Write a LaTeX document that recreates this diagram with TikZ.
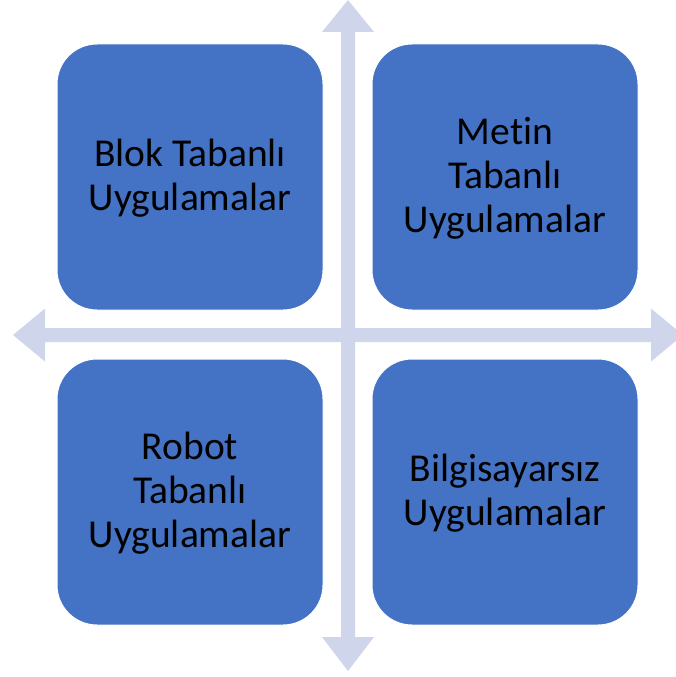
\documentclass[tikz,border=0pt]{standalone}
\usepackage{fontspec}
\setmainfont[Ligatures=NoCommon]{Carlito}
\definecolor{boxblue}{HTML}{4472C4}
\definecolor{arrowlav}{HTML}{CFD5EA}
\newcommand{\boxlines}[1]{\raisebox{-3pt}[\height][\depth]{\begin{tabular}{@{}c@{}}#1\end{tabular}}}
\begin{document}
\begin{tikzpicture}[x=1pt,y=-1pt,
  quadbox/.style={draw=white,line width=1pt,fill=boxblue,rounded corners=40pt,
    minimum width=266pt,minimum height=266pt,inner sep=0pt,
    font=\fontsize{39.5}{44}\selectfont,text=black},
  arrowfill/.style={fill=arrowlav,draw=none}]
\useasboundingbox (0,0) rectangle (676,677);
\begin{scope}
\clip (0,0) rectangle (676,677);
% vertical double arrow
\coordinate (vtop) at (348,0);
\coordinate (vbot) at (348,671);
\fill[arrowfill] (vtop) -- (374,32) -- (355,32) -- (355,637) -- (374,637) -- (vbot)
  -- (322,637) -- (341,637) -- (341,32) -- (322,32) -- cycle;
% horizontal double arrow
\coordinate (hleft) at (13,335);
\coordinate (hright) at (683,335);
\fill[arrowfill] (hleft) -- (45,308.5) -- (45,328) -- (651,328) -- (651,308.5) -- (hright)
  -- (651,361.5) -- (651,342) -- (45,342) -- (45,361.5) -- cycle;
\end{scope}
\node[quadbox] (tl) at (190,177) {\boxlines{Blok Tabanlı\\Uygulamalar}};
\node[quadbox] (tr) at (505,177) {\boxlines{Metin\\Tabanlı\\Uygulamalar}};
\node[quadbox] (bl) at (190,492) {\boxlines{Robot\\Tabanlı\\Uygulamalar}};
\node[quadbox] (br) at (505,492) {\boxlines{Bilgisayarsız\\Uygulamalar}};
\end{tikzpicture}
\end{document}
